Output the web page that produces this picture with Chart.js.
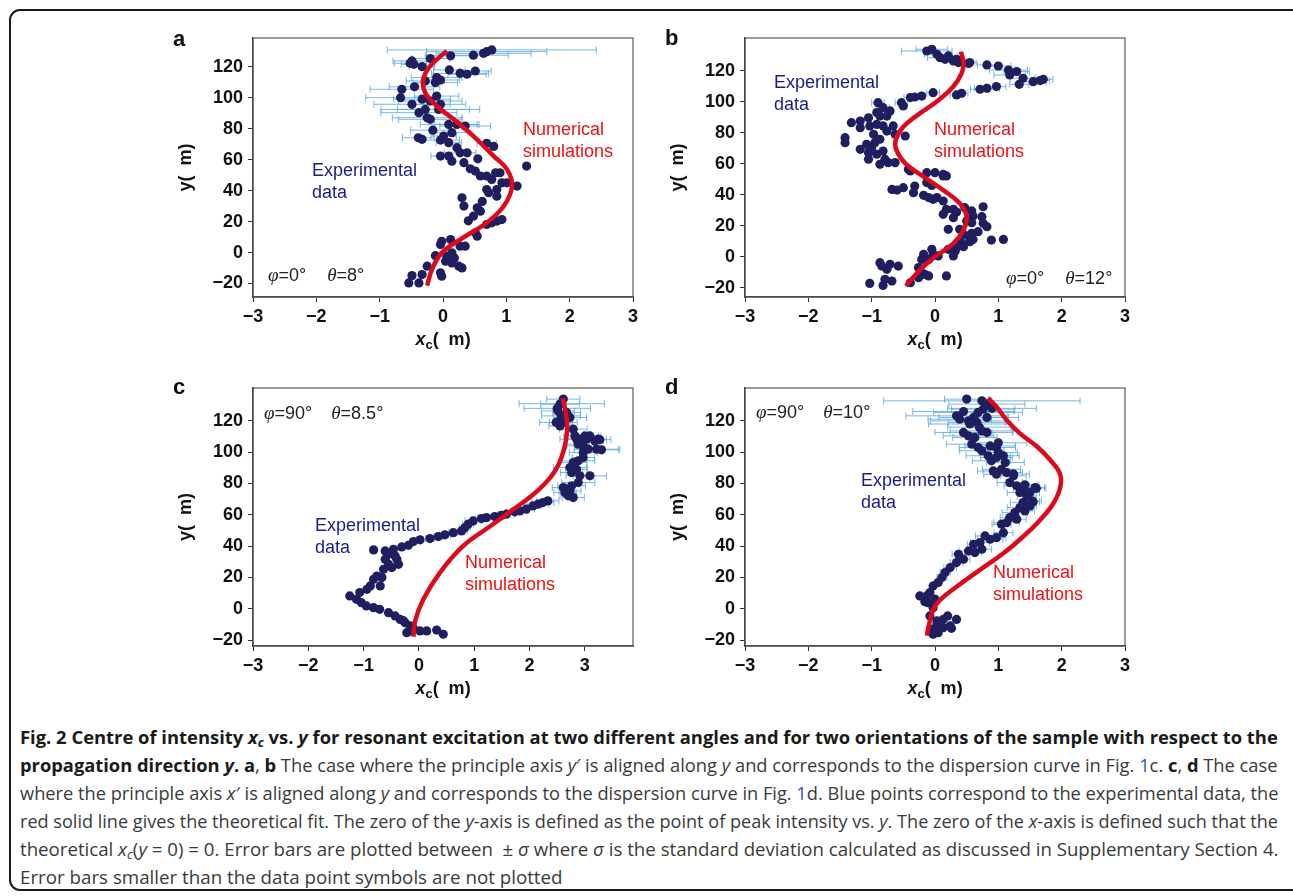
<!DOCTYPE html>
<html>
<head>
<meta charset="utf-8">
<script src="https://cdn.jsdelivr.net/npm/chart.js@4.4.1/dist/chart.umd.min.js"></script>
<style>
  html, body { margin:0; padding:0; background:#fff; }
  body { width:1293px; height:896px; position:relative; overflow:hidden; font-family:"Liberation Sans", Arial, sans-serif; }
  .frame { position:absolute; left:9px; top:9px; width:1300px; height:882px; border:2px solid #1a1a1a; border-radius:11px; box-sizing:border-box; }
  canvas { position:absolute; }
  .lbl { position:absolute; font-size:18px; line-height:22px; white-space:nowrap; z-index:2; }
  .exp { color:#1a1a8e; }
  .num { color:#ee1111; }
  .ang { color:#222; }
  .ang i { font-family:"Liberation Serif", "DejaVu Serif", serif; font-size:19px; }
  .letter { position:absolute; font-size:22px; font-weight:bold; line-height:22px; color:#111; z-index:2; }
  .xt { position:absolute; width:200px; text-align:center; font-size:18px; font-weight:bold; line-height:22px; color:#111; z-index:2; }
  .xt sub { font-size:13px; vertical-align:-4px; line-height:0; }
  .cap { position:absolute; left:20px; white-space:nowrap; font-family:"Open Sans", "Noto Sans", sans-serif; font-size:17.5px; line-height:20px; color:#3a3a3a; transform-origin:0 0; }
  .cap b { color:#1a1a1a; font-weight:700; }
  .cap .lk { color:#2850c8; }
  .cap sub { font-size:12px; line-height:0; vertical-align:-3px; }
</style>
</head>
<body>
<div class="frame"></div>

<canvas id="ca" width="485" height="310" style="left:165px;top:28px"></canvas>
<canvas id="cb" width="485" height="310" style="left:657px;top:28px"></canvas>
<canvas id="cc" width="485" height="309" style="left:165px;top:378px"></canvas>
<canvas id="cd" width="485" height="309" style="left:657px;top:378px"></canvas>

<div class="letter" style="left:173px;top:28px">a</div>
<div class="letter" style="left:665px;top:27px">b</div>
<div class="letter" style="left:173px;top:376px">c</div>
<div class="letter" style="left:665px;top:376px">d</div>

<div class="lbl exp" style="left:312px;top:159px">Experimental<br>data</div>
<div class="lbl num" style="left:523px;top:118px">Numerical<br>simulations</div>
<div class="lbl ang" style="left:268px;top:264px"><i>φ</i>=0°<span style="display:inline-block;width:21px"></span><i>θ</i>=8°</div>

<div class="lbl exp" style="left:774px;top:71px">Experimental<br>data</div>
<div class="lbl num" style="left:934px;top:118px">Numerical<br>simulations</div>
<div class="lbl ang" style="left:1006px;top:267px"><i>φ</i>=0°<span style="display:inline-block;width:21px"></span><i>θ</i>=12°</div>

<div class="lbl ang" style="left:264px;top:402px"><i>φ</i>=90°<span style="display:inline-block;width:19px"></span><i>θ</i>=8.5°</div>
<div class="lbl exp" style="left:315px;top:514px">Experimental<br>data</div>
<div class="lbl num" style="left:465px;top:551px">Numerical<br>simulations</div>

<div class="lbl ang" style="left:756px;top:401px"><i>φ</i>=90°<span style="display:inline-block;width:19px"></span><i>θ</i>=10°</div>
<div class="lbl exp" style="left:861px;top:469px">Experimental<br>data</div>
<div class="lbl num" style="left:993px;top:561px">Numerical<br>simulations</div>

<div class="xt" style="left:343px;top:328px"><i>x</i><sub>c</sub>(&nbsp;&nbsp;m)</div>
<div class="xt" style="left:835px;top:328px"><i>x</i><sub>c</sub>(&nbsp;&nbsp;m)</div>
<div class="xt" style="left:343px;top:677px"><i>x</i><sub>c</sub>(&nbsp;&nbsp;m)</div>
<div class="xt" style="left:835px;top:677px"><i>x</i><sub>c</sub>(&nbsp;&nbsp;m)</div>

<div class="cap" data-w="1258" style="top:727px"><b>Fig. 2 Centre of intensity <i>x<sub>c</sub></i> vs. <i>y</i> for resonant excitation at two different angles and for two orientations of the sample with respect to the</b></div>
<div class="cap" data-w="1258" style="top:755px"><b>propagation direction <i>y</i>. a</b>, <b>b</b> The case where the principle axis <i>y</i>′ is aligned along <i>y</i> and corresponds to the dispersion curve in Fig. <span class="lk">1</span>c. <b>c</b>, <b>d</b> The case</div>
<div class="cap" data-w="1258" style="top:783px">where the principle axis <i>x</i>′ is aligned along <i>y</i> and corresponds to the dispersion curve in Fig. <span class="lk">1</span>d. Blue points correspond to the experimental data, the</div>
<div class="cap" data-w="1258" style="top:811px">red solid line gives the theoretical fit. The zero of the <i>y</i>-axis is defined as the point of peak intensity vs. <i>y</i>. The zero of the <i>x</i>-axis is defined such that the</div>
<div class="cap" data-w="1258" style="top:839px">theoretical <i>x<sub>c</sub></i>(<i>y</i> = 0) = 0. Error bars are plotted between &nbsp;± <i>σ</i> where <i>σ</i> is the standard deviation calculated as discussed in Supplementary Section 4.</div>
<div class="cap" data-w="543" style="top:867px">Error bars smaller than the data point symbols are not plotted</div>

<script>
// ---------- Panel a (φ=0°, θ=8°) ----------
const aX = [0.77,0.69,0.64,0.48,0.12,-0.20,-0.49,-0.52,-0.46,-0.33,
0.10,0.27,0.38,0.51,-0.10,-0.04,-0.12,-0.28,-0.65,-0.67,
-0.49,-0.33,-0.20,-0.28,-0.38,-0.25,-0.20,-0.07,-0.04,-0.10,
0.09,0.22,0.35,0.14,-0.39,-0.33,-0.04,0.01,0.09,0.22,
0.27,0.38,0.69,-0.04,0.09,0.14,0.33,0.43,0.51,0.59,
0.69,0.77,0.83,0.90,0.93,1.01,1.17,1.32,0.69,0.72,
0.85,0.85,0.30,0.33,0.54,0.59,0.48,0.69,0.77,0.85,
0.93,0.51,0.54,-0.02,-0.04,0.12,0.27,0.35,0.06,0.14,
0.14,0.25,0.30,-0.25,-0.04,-0.02,-0.33,-0.49,-0.38,-0.54,
0.04,0.62,0.40,0.18,-0.12,0.55,0.80,-0.16,-0.45];
const aY = [130.8,129.7,128.6,127.4,127.0,125.2,123.7,122.2,121.5,120.0,
117.9,115.7,115.1,117.2,113.0,111.4,109.7,110.8,105.4,100.0,
95.7,99.0,97.8,92.4,90.3,87.0,86.0,92.4,95.7,101.0,
82.7,82.7,81.7,77.4,74.1,73.1,72.6,75.2,70.9,67.7,
64.4,64.4,70.5,62.3,62.3,59.0,58.0,54.1,52.6,49.4,
49.4,47.2,51.5,51.5,45.0,45.0,42.9,55.8,40.7,38.6,
40.7,36.4,35.3,30.0,28.9,26.7,23.5,18.1,19.2,20.3,
21.3,12.7,10.6,7.3,5.2,8.4,4.1,4.1,-2.4,-0.2,
-6.7,-8.8,-9.9,-8.8,-13.1,-15.3,-14.2,-14.9,-19.6,-19.6,
-5.6,33.0,20.5,-3.5,-2.0,60.5,68.5,79.0,107.0];
const aErr = [1.65,0.95,0.75,0.55,0.40,0.30,0.30,0.25,0.20,0.20,
0.25,0.45,0.30,0.25,0.40,0.30,0.35,0.30,0.50,0.55,
0.60,0.45,0.50,0.70,0.60,0.55,0.50,0.65,0.40,0.35,
0.45,0.35,0.40,0.30,0.25,0,0.30,0.20,0.20,0,
0.25,0,0.15,0.15,0,0,0,0,0,0,
0,0,0,0,0,0,0,0,0,0,
0,0,0,0,0,0,0,0,0,0,
0,0,0,0,0,0,0,0,0,0,
0,0,0,0,0,0,0,0,0,0,
0,0,0,0,0,0,0,0.35,0.40];
const aFitX = [-0.25,-0.175,-0.02,0.27,0.69,0.96,1.09,1.01,0.80,0.48,0.17,-0.10,-0.28,-0.31,-0.20,0.06];
const aFitY = [-21.3,-11,-0.2,8.4,19.2,30,42.9,53.7,62.3,75.2,86,94.6,103.2,111.8,120.5,130.2];

// ---------- Panel b (φ=0°, θ=12°) ----------
const bX = [-0.13,-0.05,0.03,0.08,0.16,0.21,0.29,0.37,0.53,0.82,
1.00,1.16,1.18,1.29,1.39,1.33,1.55,1.66,1.71,0.97,
0.82,0.71,0.55,0.34,0.42,-0.03,0.34,-0.39,-0.32,-0.21,
-0.53,-0.50,-0.90,-0.82,-0.71,-0.92,-0.87,-0.76,-1.05,-1.18,
-1.32,-1.18,-1.03,-0.92,-0.82,-0.76,-0.66,-0.63,-0.47,-0.97,
-0.87,-0.95,-1.42,-1.42,-1.08,-1.00,-1.18,-1.05,-0.92,-0.82,
-1.05,-0.87,-0.79,-0.74,-0.63,-0.42,-0.39,-0.13,0.00,0.13,
0.18,-0.13,-0.05,-0.68,-0.60,-0.50,-0.32,-0.34,-0.18,-0.10,
-0.03,0.03,0.13,0.18,0.29,0.34,0.13,0.29,0.47,0.58,
0.60,0.50,0.58,0.21,0.39,0.45,0.53,0.60,0.42,0.34,
0.32,0.21,-0.05,-0.03,-0.18,-0.21,-0.10,0.05,0.29,-0.87,
-0.84,-0.71,-0.58,-0.76,-0.26,-0.21,-0.16,-0.10,-0.26,0.18,
-0.79,-0.68,-0.82,-1.03,-0.39,0.76,0.74,0.76,0.68,0.82,
0.89,1.08,0.58,0.55,0.45,0.13];
const bY = [132.9,134.0,130.8,128.6,127.5,129.7,126.5,125.4,124.9,123.9,
123.2,120.6,117.4,119.6,115.3,111.4,113.1,113.8,114.6,109.9,
108.8,108.2,125.4,104.5,105.6,106.0,127.5,102.8,103.2,103.8,
99.5,97.4,99.5,96.3,94.2,93.1,90.9,90.9,89.8,87.7,
86.6,83.4,84.5,85.5,84.5,81.2,84.5,79.1,78.0,79.1,
75.9,73.7,76.9,73.7,72.6,70.5,69.4,67.2,66.2,68.3,
63.0,59.7,63.0,60.8,60.8,56.5,55.4,54.3,54.3,53.2,
52.2,47.9,46.1,43.5,43.1,44.6,45.7,41.4,39.7,38.2,
37.1,38.2,36.0,30.6,30.6,28.9,27.4,25.2,31.7,29.6,
26.3,23.1,22.0,17.7,17.7,14.5,13.4,11.2,9.1,5.9,
3.7,4.8,4.8,1.6,1.6,-1.7,-1.7,0.5,0.5,-3.8,
-6.0,-4.9,-6.0,-8.1,-7.0,-10.3,-11.4,-12.4,-13.5,-12.4,
-14.6,-15.7,-18.5,-17.2,-16.8,32.3,25.9,21.6,16.2,19.4,
10.8,11.2,15.1,9.7,6.5,52.2];
const bErr = [0.40,0.25,0.20,0.20,0,0.15,0,0,0,0.15,
0.20,0.30,0.25,0.20,0.20,0.15,0.20,0.15,0.15,0.15,
0.20,0.15,0.10,0.10,0.10,0.10,0,0.10,0.10,0.05,
0.10,0,0.10,0.10,0.05,0,0,0,0,0];
const bFitX = [-0.46,-0.24,0.0,0.29,0.45,0.50,0.39,0.13,-0.18,-0.47,-0.61,-0.62,-0.50,-0.24,0.05,0.29,0.42,0.45,0.41];
const bFitY = [-18.9,-8.6,0,8.6,17.3,25.9,34.5,43,51.7,60.3,69,75.4,84,92.6,101,110,118.5,125,132.5];

// ---------- Panel c (φ=90°, θ=8.5°) ----------
const cX = [2.61,2.55,2.51,2.57,2.67,2.48,2.55,2.61,2.73,2.79,
2.82,2.85,2.88,2.91,3.00,3.03,3.09,3.18,3.24,2.97,
3.06,3.21,2.97,2.97,2.88,2.79,2.73,2.76,2.85,2.91,
3.09,2.88,2.76,2.73,2.64,2.70,2.79,2.61,2.33,2.24,
2.15,2.06,1.94,1.82,1.73,1.58,1.49,1.37,1.22,1.13,
0.98,0.89,0.83,0.77,0.62,0.47,0.35,0.20,0.02,-0.10,
-0.19,-0.31,-0.46,-0.82,-0.61,-0.55,-0.43,-0.40,-0.61,-0.55,
-0.37,-0.49,-0.64,-0.76,-0.82,-0.67,-0.70,-0.88,-0.94,-1.07,
-1.25,-1.13,-1.04,-0.95,-0.82,-0.71,-0.55,-0.43,-0.34,-0.25,
-0.16,-0.13,0.02,0.14,0.32,0.44,-0.22,-0.28,-0.10,2.58,
2.50,3.30,3.27];
const cY = [133.9,130.7,126.4,123.2,125.4,119.0,116.8,119.0,122.2,114.7,
110.4,108.3,105.1,108.3,110.4,108.3,110.4,107.2,108.3,104.0,
101.9,101.9,99.8,96.6,94.5,93.4,90.2,87.0,89.1,84.9,
84.9,80.6,78.5,75.3,74.2,72.1,71.0,77.4,68.9,67.8,
66.8,65.7,63.6,62.5,61.9,60.4,59.7,58.9,58.2,57.6,
56.1,54.0,51.8,49.7,48.6,47.2,46.1,44.8,44.0,42.9,
40.5,39.5,38.0,37.6,36.9,34.8,33.7,31.6,31.6,28.4,
28.4,26.3,25.2,20.9,18.8,19.9,14.6,14.6,12.4,10.3,
8.2,6.0,3.9,1.8,0.7,-0.4,-2.5,-4.6,-6.8,-8.9,
-11.0,-14.2,-14.2,-14.2,-13.6,-16.3,-15.3,-7.6,-12.5,131.0,
128.0,101.5,108.0];
const cErr = [0.30,0.35,0.30,0.35,0.25,0.30,0.20,0.25,0.30,0.25,
0.20,0.30,0.20,0.25,0.25,0.20,0.20,0.15,0.15,0.30,
0.25,0.40,0.25,0.20,0.30,0.25,0.30,0.20,0.20,0.25,
0.30,0.30,0.25,0.20,0.20,0.15,0.20,0.20,0.20,0.20,
0.20,0.15,0.15,0.15,0.15,0.15,0.10,0.15,0.15,0.10,
0.15,0.10,0.10,0.10,0.08,0.10,0.08,0.08,0.05,0,
0,0,0,0,0,0,0,0,0,0,
0,0,0,0,0,0,0,0,0,0,
0,0,0,0,0,0,0,0,0,0,
0,0,0,0,0,0,0,0,0,0.77,
0.60,0.33,0.20];
const cFitX = [-0.10,-0.07,0.08,0.38,0.80,1.28,1.70,2.05,2.28,2.46,2.58,2.66,2.68,2.64,2.60];
const cFitY = [-17.9,-8,6,23.1,40.1,52.5,63.3,72.5,80,88,97,108,118,128,134.5];

// ---------- Panel d (φ=90°, θ=10°) ----------
const dX = [0.50,0.74,0.82,0.76,0.68,0.61,0.53,0.66,0.82,0.34,
0.39,0.45,0.53,0.63,0.74,0.82,0.58,0.68,0.74,0.87,
0.97,1.00,0.84,0.89,0.97,1.08,1.11,1.05,1.13,1.24,
0.92,0.97,1.18,1.29,1.39,1.34,1.45,1.50,1.39,1.34,
1.42,1.53,1.50,1.58,1.26,1.18,1.29,1.13,1.05,1.08,
0.97,0.87,0.79,0.71,0.61,0.74,0.63,0.53,0.45,0.34,
0.24,0.37,0.16,0.11,0.05,-0.03,-0.08,-0.13,-0.24,0.00,
-0.11,-0.03,-0.08,0.03,0.13,0.24,0.34,0.20,-0.05,0.05,
0.13,-0.03,0.03,-0.16,0.26,1.55,1.60,1.42,1.24,0.90,
0.55,0.70,0.45,1.00];
const dY = [133.9,132.8,130.7,127.5,125.4,122.2,120.0,119.0,122.2,123.2,
121.1,112.6,110.4,109.4,113.6,112.6,105.1,103.0,100.9,104.0,
103.0,99.8,97.7,94.5,96.6,97.7,93.4,89.1,87.0,84.9,
88.0,85.9,80.6,78.5,76.4,74.2,72.1,74.2,67.8,64.6,
62.5,68.9,65.7,77.4,61.4,58.2,57.2,55.0,54.0,48.6,
45.4,44.4,46.5,42.3,41.2,38.0,35.9,36.9,31.6,29.5,
26.3,34.8,23.1,19.9,16.7,14.6,10.3,8.2,8.2,6.1,
3.9,0.7,-4.6,-7.8,-6.8,-11.0,-6.8,-4.6,-13.2,-15.3,
-12.1,-16.3,-10.0,4.5,-12.5,68.4,77.0,79.1,86.1,128.0,
118.0,116.0,126.0,106.0];
const dErr = [0.35,1.55,0.60,0.50,0.70,0.55,0.60,0.45,0.50,0.80,
0.50,0.45,0.40,0.35,0.50,0.40,0.40,0.30,0.35,0.40,
0.30,0.30,0.35,0.30,0.25,0.25,0.30,0.30,0.25,0.20,
0.25,0.20,0.20,0.20,0.15,0.20,0.15,0.15,0.20,0.20,
0.15,0.15,0.10,0.15,0.20,0.15,0.15,0.20,0.15,0.15,
0.15,0.20,0.15,0.15,0.10,0.15,0.10,0.15,0.10,0.10,
0.10,0.10,0.08,0.08,0.05,0,0,0,0,0,
0,0,0,0,0,0,0,0,0,0,
0,0,0,0,0,0.10,0.15,0.20,0.25,0.70,
0.65,0.50,0.80,0.45];
const dFitX = [-0.13,-0.09,-0.03,0.08,0.34,0.71,1.08,1.39,1.66,1.87,1.98,1.97,1.82,1.61,1.34,1.13,0.97,0.84];
const dFitY = [-17.2,-9.3,-0.8,5.6,14,24.8,35.4,46,56.7,67.4,78,86.5,95,103.6,112,120.6,129,134.5];

// ---------- tick labels ----------
const xTickVals = [-3,-2,-1,0,1,2,3];
const yTickVals = [-20,0,20,40,60,80,100,120];
const yTitle = 'y(  m)';

// ---------- plugins ----------
const errorBarPlugin = {
  id: 'errorBars',
  beforeDatasetsDraw(chart) {
    const ctx = chart.ctx, xs = chart.scales.x, ys = chart.scales.y, area = chart.chartArea;
    ctx.save();
    ctx.beginPath();
    ctx.rect(area.left, area.top, area.right - area.left, area.bottom - area.top);
    ctx.clip();
    ctx.strokeStyle = 'rgba(98,170,226,0.85)';
    ctx.lineWidth = 1;
    chart.data.datasets.forEach(ds => {
      if (!ds.errX) return;
      ds.data.forEach((p, i) => {
        const e = ds.errX[i];
        if (!e) return;
        const x1 = xs.getPixelForValue(p.x - e), x2 = xs.getPixelForValue(p.x + e);
        const y = ys.getPixelForValue(p.y);
        ctx.beginPath();
        ctx.moveTo(x1, y); ctx.lineTo(x2, y);
        ctx.moveTo(x1, y - 3.5); ctx.lineTo(x1, y + 3.5);
        ctx.moveTo(x2, y - 3.5); ctx.lineTo(x2, y + 3.5);
        ctx.stroke();
      });
    });
    ctx.restore();
  }
};
const framePlugin = {
  id: 'frame',
  afterDraw(chart) {
    const {ctx, chartArea: a} = chart;
    ctx.save();
    ctx.strokeStyle = '#5a5a5a';
    ctx.lineWidth = 1.2;
    ctx.strokeRect(a.left, a.top, a.right - a.left, a.bottom - a.top);
    ctx.restore();
  }
};

function minusFmt(v) { return v < 0 ? '\u2212' + Math.abs(v) : String(v); }

function makePanel(id, xs, ys, errs, fx, fy, xMin, xMax, yMin, yMax) {
  const n = Math.min(xs.length, ys.length);
  const pts = [];
  const ers = [];
  for (let i = 0; i < n; i++) { pts.push({x: xs[i], y: ys[i]}); ers.push(errs[i] || 0); }
  const fit = fx.map((x, i) => ({x: x, y: fy[i]}));
  const tickFont = {family: '"Liberation Sans", Arial, sans-serif', size: 18, weight: 'bold'};
  new Chart(document.getElementById(id), {
    type: 'scatter',
    data: {
      datasets: [
        {label: 'Experimental data', data: pts, errX: ers, order: 1,
         pointRadius: 4.6, pointHoverRadius: 4.6, backgroundColor: '#1f1f60', borderWidth: 0, pointBorderWidth: 0},
        {label: 'Numerical simulations', data: fit, showLine: true, order: 0, tension: 0.4,
         borderColor: '#dd0a1c', borderWidth: 4.5, pointRadius: 0, fill: false, borderCapStyle: 'butt'}
      ]
    },
    options: {
      responsive: false,
      animation: false,
      events: [],
      layout: {padding: {left: 0, top: 10, right: 17, bottom: 0}},
      plugins: {legend: {display: false}, tooltip: {enabled: false}},
      scales: {
        x: {
          type: 'linear', min: xMin, max: xMax,
          afterBuildTicks(s) { s.ticks = xTickVals.map(v => ({value: v})); },
          afterFit(s) { s.height = 41; s.paddingLeft = 0; s.paddingRight = 0; },
          grid: {display: true, drawOnChartArea: false, drawTicks: true, tickLength: 5, color: '#333', lineWidth: 1},
          border: {display: true, color: '#333', width: 1.5},
          ticks: {autoSkip: false, maxRotation: 0, padding: 4,
                  font: tickFont, color: '#111', callback: minusFmt}
        },
        y: {
          type: 'linear', min: yMin, max: yMax,
          afterBuildTicks(s) { s.ticks = yTickVals.map(v => ({value: v})); },
          afterFit(s) { s.width = 88; s.paddingTop = 0; s.paddingBottom = 0; },
          grid: {display: true, drawOnChartArea: false, drawTicks: true, tickLength: 5, color: '#333', lineWidth: 1},
          border: {display: true, color: '#333', width: 1.5},
          ticks: {autoSkip: false, padding: 5,
                  font: tickFont, color: '#111', callback: minusFmt},
          title: {display: true, text: yTitle, color: '#111', padding: {top: 10, bottom: 0},
                  font: {family: '"Liberation Sans", Arial, sans-serif', size: 18, weight: 'bold'}}
        }
      }
    },
    plugins: [errorBarPlugin, framePlugin]
  });
}

makePanel('ca', aX, aY, aErr, aFitX, aFitY, -3, 3, -28.7, 138.5);
makePanel('cb', bX, bY, bErr, bFitX, bFitY, -3, 3, -26, 141.3);
makePanel('cc', cX, cY, cErr, cFitX, cFitY, -3, 3.87, -23.8, 141);
makePanel('cd', dX, dY, dErr, dFitX, dFitY, -3, 3, -23.8, 141);

function fitCaption() {
  document.querySelectorAll('.cap').forEach(el => {
    el.style.transform = 'none';
    const w = el.scrollWidth;
    const target = parseFloat(el.dataset.w);
    if (w > 0) el.style.transform = 'scaleX(' + (target / w) + ')';
  });
}
fitCaption();
if (document.fonts && document.fonts.ready) document.fonts.ready.then(fitCaption);
</script>
</body>
</html>
